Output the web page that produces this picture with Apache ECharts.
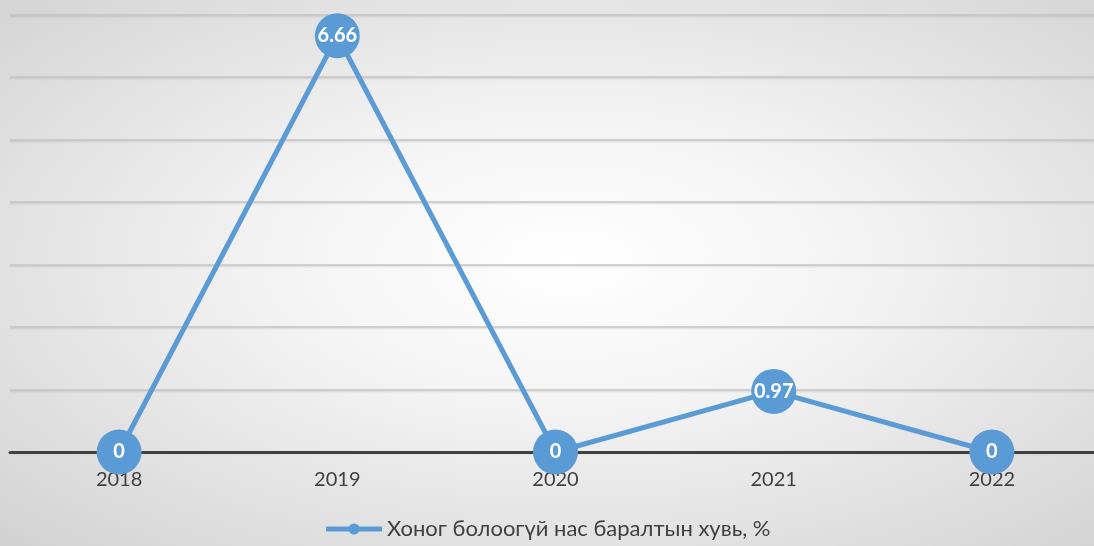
<!DOCTYPE html>
<html>
	<head>
		<meta charset="utf-8">
		<title></title>
		<script type="text/javascript" src="https://cdn.jsdelivr.net/npm/echarts@6/dist/echarts.min.js"></script>
		<style>
			html, body { margin: 0; padding: 0; }
			#chart {
				width: 1094px; height: 546px;
				background: radial-gradient(ellipse at 52% 48%, #ffffff 0%, #f4f4f4 35%, #d2d2d2 100%);
			}
		</style>
	</head>
	<body>
		<div id="chart"></div>
		<script type="text/javascript">
			// 数据
			var years = ['2018', '2019', '2020', '2021', '2022'];
			var values = [0, 6.66, 0, 0.97, 0];
			var seriesName = 'Хоног болоогүй нас баралтын хувь, %';

			var myChart = echarts.init(document.getElementById('chart'));
			var option = {
				backgroundColor: 'transparent',
				textStyle: { fontFamily: 'Lato, "Open Sans", sans-serif' },
				grid: {
					left: 10,
					top: 14.5,
					width: 1091,
					height: 437.5,
					outerBoundsMode: 'none'
				},
				legend: {
					bottom: 1,
					left: 'center',
					itemWidth: 56,
					itemHeight: 14,
					itemGap: 4,
					lineStyle: { width: 5 },
					textStyle: { fontSize: 22, color: '#404040' },
					data: [seriesName]
				},
				xAxis: {
					type: 'category',
					data: years,
					axisLine: { lineStyle: { color: '#404040', width: 3 } },
					axisTick: { show: false },
					axisLabel: { fontSize: 20, color: '#404040', margin: 18 }
				},
				yAxis: {
					type: 'value',
					min: 0,
					max: 7,
					interval: 1,
					axisLabel: { show: false },
					axisLine: { show: false },
					splitLine: {
						lineStyle: {
							color: '#c4c4c4',
							width: 1.5,
							shadowColor: 'rgba(0,0,0,0.15)',
							shadowBlur: 2,
							shadowOffsetY: 1
						}
					}
				},
				series: [{
					name: seriesName,
					type: 'line',
					data: values,
					symbol: 'circle',
					symbolSize: 45,
					color: '#5b9bd5',
					lineStyle: { width: 5, color: '#5b9bd5' },
					itemStyle: { color: '#5b9bd5' },
					label: {
						show: true,
						position: 'inside',
						color: '#ffffff',
						fontWeight: 'bold',
						fontSize: 20
					}
				}]
			};
			myChart.setOption(option);
		</script>
	</body>
</html>
